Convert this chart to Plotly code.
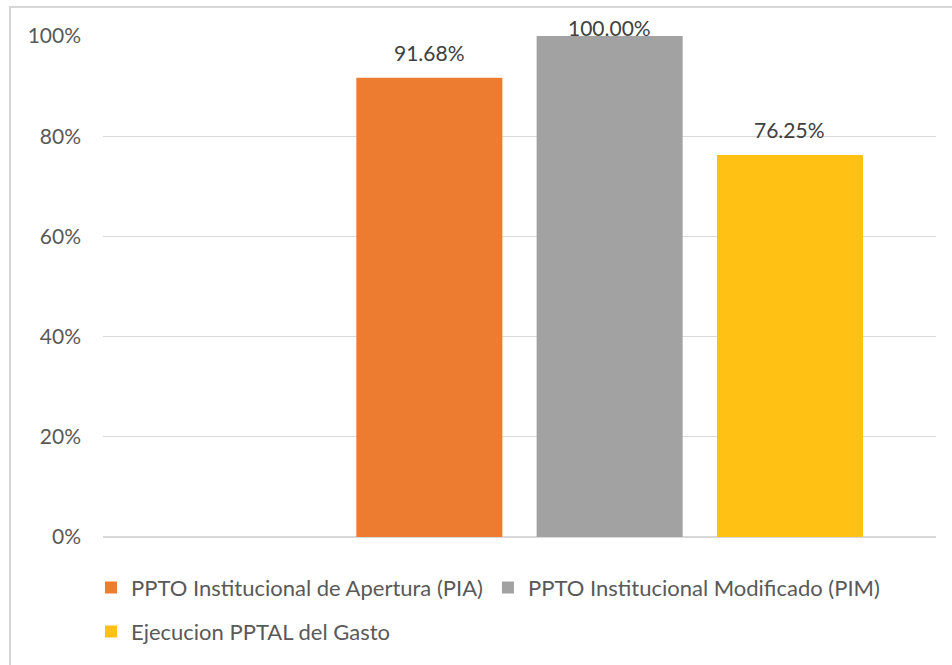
import plotly.graph_objects as go

series_names = [
    "PPTO Institucional de Apertura (PIA)",
    "PPTO Institucional Modificado (PIM)",
    "Ejecucion PPTAL del Gasto",
]
series_values = [0.9168, 1.0000, 0.7625]
series_slots = [1, 2, 3]
series_colors = ["#EE7C30", "#A2A2A2", "#FFC114"]
tick_values = [0, 0.2, 0.4, 0.6, 0.8, 1.0]
tick_labels = ["0%", "20%", "40%", "60%", "80%", "100%"]

FONT = "Lato, 'Open Sans', sans-serif"

W, H = 952, 665
ML, MR, MT, MB = 103, 16, 36, 126
PLOT_H = H - MT - MB

fig = go.Figure()
for i, (name, val, slot, col) in enumerate(zip(series_names, series_values, series_slots, series_colors)):
    fig.add_trace(go.Bar(
        x=[slot], y=[val], name=name, width=0.81,
        marker=dict(color=col, line=dict(width=0)),
        legend="legend" if i < 2 else "legend2",
        showlegend=True,
    ))
    # Excel-style "outside end" label, nudged down to stay inside the chart
    bar_top_px = MT + (1 - val) * PLOT_H
    shift = min(25, bar_top_px - 27)
    fig.add_annotation(
        x=slot, y=val, text=f"{val*100:.2f}%", showarrow=False,
        yanchor="middle", yshift=shift,
        font=dict(family=FONT, size=21, color="#404040"),
    )

fig.update_layout(
    width=W, height=H,
    margin=dict(l=ML, r=MR, t=MT, b=MB),
    paper_bgcolor="white", plot_bgcolor="white",
    font=dict(family=FONT, size=21, color="#595959"),
    barmode="group",
    xaxis=dict(range=[-0.81, 3.81], showticklabels=False, showgrid=False,
               zeroline=False, showline=False, fixedrange=True),
    yaxis=dict(range=[0, 1.0], tickvals=tick_values, ticktext=tick_labels,
               showgrid=True, gridcolor="#D9D9D9", gridwidth=1.3,
               zeroline=True, zerolinecolor="#D9D9D9", zerolinewidth=1.5,
               showline=False, ticks="",
               ticklabelstandoff=21,
               tickfont=dict(family=FONT, size=21, color="#595959")),
    legend=dict(orientation="h", x=-0.0144, y=-0.1014, xanchor="left", yanchor="middle",
                font=dict(family=FONT, size=22, color="#595959"),
                itemwidth=30, bgcolor="rgba(0,0,0,0)"),
    legend2=dict(orientation="h", x=-0.0144, y=-0.1889, xanchor="left", yanchor="middle",
                 font=dict(family=FONT, size=22, color="#595959"),
                 itemwidth=30, bgcolor="rgba(0,0,0,0)"),
    shapes=[dict(type="rect", xref="paper", yref="paper",
                 x0=-0.1116, x1=1.2, y0=-0.4, y1=1.0577,
                 line=dict(color="#D6D6D6", width=2), layer="above")],
    showlegend=True,
)

fig.write_html("out.html", config={"displayModeBar": False},
               post_script="document.body.style.margin='0';")
